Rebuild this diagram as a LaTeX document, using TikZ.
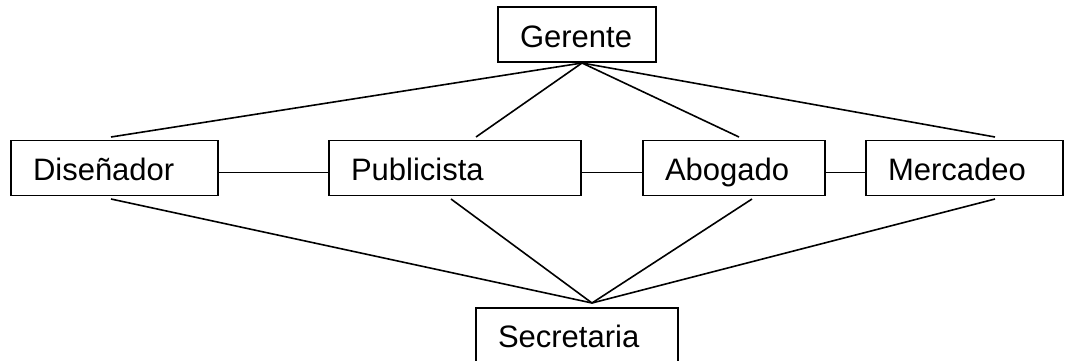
\documentclass[tikz,border=0pt]{standalone}
\usepackage{fontspec}
\setmainfont{Liberation Sans}
\usepackage{tikz}
\usetikzlibrary{positioning, calc}

\begin{document}
\begin{tikzpicture}[
  x=0.5pt, y=-0.5pt,
  cell/.style={draw, line width=0.9pt, minimum height=27.5pt, inner xsep=11pt, inner ysep=0pt,
    text width=#1, text height=14pt, text depth=1.5pt, align=left,
    font=\fontsize{15.5}{18}\selectfont},
  link/.style={line width=0.8pt},
]
\useasboundingbox (0,0) rectangle (1072,360);
% cargos
\node[cell=57pt]   (ger) at (577,34.5)  {Gerente};
\node[cell=81.5pt] (dis) at (114.5,168) {Diseñador};
\node[cell=104pt]  (pub) at (455,168)   {Publicista};
\node[cell=69pt]   (abo) at (734,168)   {Abogado};
\node[cell=76.5pt] (mer) at (964.5,168) {Mercadeo};
\node[cell=79pt, anchor=north] (sec) at (577,307) {Secretaria};

% puntos de union
\coordinate (arriba) at (582,63);
\coordinate (abajo) at (592,303);
\coordinate (disT) at (111,137);  \coordinate (disB) at (111,199);
\coordinate (pubT) at (476,137);  \coordinate (pubB) at (451,199);
\coordinate (aboT) at (739,137);  \coordinate (aboB) at (752,199);
\coordinate (merT) at (995,137);  \coordinate (merB) at (995,199);

\foreach \n in {dis,pub,abo,mer} {
  \draw[link] (arriba) -- (\n T);
  \draw[link] (\n B) -- (abajo);
}
\draw[link] ([yshift=-2.2pt]dis.east) -- ([yshift=-2.2pt]pub.west);
\draw[link] ([yshift=-2.2pt]pub.east) -- ([yshift=-2.2pt]abo.west);
\draw[link] ([yshift=-2.2pt]abo.east) -- ([yshift=-2.2pt]mer.west);
\end{tikzpicture}
\end{document}
